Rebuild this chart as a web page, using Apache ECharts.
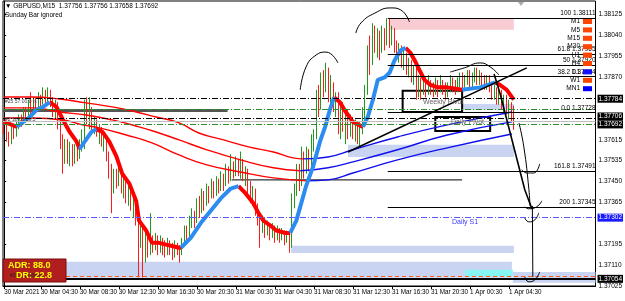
<!DOCTYPE html>
<html><head><meta charset="utf-8">
<script src="https://cdn.jsdelivr.net/npm/echarts@6/dist/echarts.min.js"></script>
<style>html,body{margin:0;padding:0;background:#fff}#c{width:625px;height:301px}</style>
</head><body><div id="c"></div>
<script>
// ---------- data ----------
const barCount = 243;
const timeTickIdx = [0,15,31,47,63,79,95,111,127,143,159,175,191,207];
const timeTickText = ['30 Mar 2021','30 Mar 04:30','30 Mar 08:30','30 Mar 12:30','30 Mar 16:30','30 Mar 20:30','31 Mar 00:30','31 Mar 04:30','31 Mar 08:30','31 Mar 12:30','31 Mar 16:30','31 Mar 20:30','1 Apr 00:30','1 Apr 04:30'];
const priceTicks = [1.38125,1.38040,1.37955,1.37870,1.37615,1.37535,1.37450,1.37365,1.37195,1.37110,1.37025];

const open = [
1.3768,1.3766,1.3763,1.3761,1.3765,1.3764,1.3768,1.3770,1.3769,1.3773,
1.3771,1.3776,1.3774,1.3777,1.3776,1.3779,1.3777,1.3780,1.3779,1.3781,
1.3777,1.3774,1.3776,1.3768,1.3762,1.3756,1.3760,1.3755,1.3758,1.3754,
1.3757,1.3756,1.3760,1.3762,1.3776,1.3770,1.3773,1.3767,1.3769,1.3765,
1.3766,1.3761,1.3762,1.3756,1.3750,1.3744,1.3748,1.3745,1.3748,1.3742,
1.3744,1.3739,1.3741,1.3735,1.3737,1.3729,1.3722,1.3726,1.3719,1.3723,
1.3718,1.3721,1.3719,1.3722,1.3718,1.3721,1.3719,1.3717,1.3720,1.3718,
1.3716,1.3719,1.3717,1.3716,1.3721,1.3725,1.3723,1.3728,1.3731,1.3729,
1.3735,1.3733,1.3738,1.3736,1.3741,1.3739,1.3743,1.3740,1.3744,1.3742,
1.3746,1.3744,1.3749,1.3747,1.3751,1.3749,1.3753,1.3750,1.3752,1.3747,
1.3749,1.3743,1.3739,1.3741,1.3734,1.3730,1.3727,1.3729,1.3725,1.3727,
1.3724,1.3726,1.3723,1.3725,1.3722,1.3724,1.3721,1.3723,1.3720,1.3738,
1.3741,1.3748,1.3745,1.3754,1.3750,1.3755,1.3752,1.3760,1.3764,1.3780,
1.3776,1.3786,1.3783,1.3789,1.3780,1.3783,1.3776,1.3779,1.3770,1.3773,
1.3768,1.3771,1.3766,1.3770,1.3765,1.3768,1.3764,1.3767,1.3772,1.3782,
1.3798,1.3794,1.3806,1.3800,1.3804,1.3799,1.3805,1.3802,1.3808,1.3803,
1.3806,1.3800,1.3797,1.3799,1.3794,1.3796,1.3791,1.3793,1.3788,1.3790,
1.3783,1.3786,1.3781,1.3784,1.3782,1.3785,1.3783,1.3781,1.3784,1.3782,
1.3785,1.3783,1.3780,1.3783,1.3786,1.3784,1.3782,1.3785,1.3787,1.3784,
1.3786,1.3788,1.3785,1.3787,1.3789,1.3786,1.3788,1.3786,1.3784,1.3786,
1.3783,1.3780,1.3782,1.3779,1.3781,1.3777,1.3779,1.3775,1.3776,1.37756];
const close = [
1.3766,1.3763,1.3761,1.3765,1.3764,1.3768,1.3770,1.3769,1.3773,1.3771,
1.3776,1.3774,1.3777,1.3776,1.3779,1.3777,1.3780,1.3779,1.3781,1.3777,
1.3774,1.3776,1.3768,1.3762,1.3756,1.3760,1.3755,1.3758,1.3754,1.3757,
1.3756,1.3760,1.3762,1.3776,1.3770,1.3773,1.3767,1.3769,1.3765,1.3766,
1.3761,1.3762,1.3756,1.3750,1.3744,1.3748,1.3745,1.3748,1.3742,1.3744,
1.3739,1.3741,1.3735,1.3737,1.3729,1.3722,1.3726,1.3719,1.3723,1.3718,
1.3721,1.3719,1.3722,1.3718,1.3721,1.3719,1.3717,1.3720,1.3718,1.3716,
1.3719,1.3717,1.3716,1.3721,1.3725,1.3723,1.3728,1.3731,1.3729,1.3735,
1.3733,1.3738,1.3736,1.3741,1.3739,1.3743,1.3740,1.3744,1.3742,1.3746,
1.3744,1.3749,1.3747,1.3751,1.3749,1.3753,1.3750,1.3752,1.3747,1.3749,
1.3743,1.3739,1.3741,1.3734,1.3730,1.3727,1.3729,1.3725,1.3727,1.3724,
1.3726,1.3723,1.3725,1.3722,1.3724,1.3721,1.3723,1.3720,1.3738,1.3741,
1.3748,1.3745,1.3754,1.3750,1.3755,1.3752,1.3760,1.3764,1.3780,1.3776,
1.3786,1.3783,1.3789,1.3780,1.3783,1.3776,1.3779,1.3770,1.3773,1.3768,
1.3771,1.3766,1.3770,1.3765,1.3768,1.3764,1.3767,1.3772,1.3782,1.3798,
1.3794,1.3806,1.3800,1.3804,1.3799,1.3805,1.3802,1.3808,1.3803,1.3806,
1.3800,1.3797,1.3799,1.3794,1.3796,1.3791,1.3793,1.3788,1.3790,1.3783,
1.3786,1.3781,1.3784,1.3782,1.3785,1.3783,1.3781,1.3784,1.3782,1.3785,
1.3783,1.3780,1.3783,1.3786,1.3784,1.3782,1.3785,1.3787,1.3784,1.3786,
1.3788,1.3785,1.3787,1.3789,1.3786,1.3788,1.3786,1.3784,1.3786,1.3783,
1.3780,1.3782,1.3779,1.3781,1.3777,1.3779,1.3775,1.3776,1.3775,1.37692];
const low = [
1.3764,1.3761,1.3759,1.3760,1.3762,1.3763,1.3766,1.3767,1.3768,1.3769,
1.3770,1.3771,1.3773,1.3774,1.3775,1.3775,1.3776,1.3776,1.3777,1.3775,
1.3771,1.3770,1.3766,1.3758,1.3748,1.3752,1.3752,1.3751,1.3751,1.3752,
1.3753,1.3754,1.3757,1.3758,1.3768,1.3766,1.3765,1.3764,1.3763,1.3760,
1.3759,1.3757,1.3753,1.3746,1.3732,1.3740,1.3742,1.3743,1.3740,1.3738,
1.3736,1.3735,1.3733,1.3730,1.3727,1.3706,1.3718,1.3706,1.3712,1.3714,
1.3715,1.3716,1.3717,1.3715,1.3716,1.3715,1.3714,1.3715,1.3715,1.3713,
1.3714,1.3715,1.3712,1.3715,1.3719,1.3720,1.3722,1.3726,1.3726,1.3728,
1.3730,1.3732,1.3733,1.3735,1.3736,1.3738,1.3738,1.3739,1.3740,1.3741,
1.3741,1.3743,1.3744,1.3745,1.3746,1.3747,1.3747,1.3746,1.3745,1.3743,
1.3740,1.3736,1.3735,1.3731,1.3727,1.3718,1.3724,1.3722,1.3723,1.3721,
1.3722,1.3720,1.3721,1.3720,1.3721,1.3719,1.3720,1.3716,1.3718,1.3734,
1.3739,1.3741,1.3743,1.3746,1.3748,1.3749,1.3751,1.3757,1.3762,1.3771,
1.3774,1.3779,1.3781,1.3777,1.3776,1.3773,1.3771,1.3764,1.3762,1.3765,
1.3760,1.3762,1.3763,1.3762,1.3761,1.3760,1.3759,1.3764,1.3770,1.3780,
1.3788,1.3792,1.3797,1.3795,1.3794,1.3797,1.3798,1.3800,1.3799,1.3800,
1.3797,1.3794,1.3793,1.3791,1.3790,1.3788,1.3787,1.3785,1.3784,1.3778,
1.3779,1.3778,1.3780,1.3779,1.3780,1.3780,1.3779,1.3780,1.3779,1.3781,
1.3780,1.3778,1.3779,1.3781,1.3781,1.3780,1.3781,1.3783,1.3782,1.3782,
1.3784,1.3783,1.3783,1.3785,1.3784,1.3784,1.3783,1.3782,1.3782,1.3781,
1.3778,1.3778,1.3776,1.3776,1.3774,1.3773,1.3772,1.3770,1.3769,1.37658];
const high = [
1.3770,1.3768,1.3765,1.3767,1.3768,1.3769,1.3772,1.3772,1.3775,1.3775,
1.3778,1.3781,1.3779,1.3779,1.3781,1.3780,1.3783,1.3782,1.3783,1.3782,
1.3779,1.3778,1.3777,1.3770,1.3764,1.3762,1.3762,1.3761,1.3760,1.3760,
1.3760,1.3762,1.3766,1.3778,1.3779,1.3779,1.3775,1.3771,1.3770,1.3768,
1.3767,1.3764,1.3763,1.3757,1.3752,1.3750,1.3750,1.3751,1.3749,1.3746,
1.3745,1.3744,1.3742,1.3739,1.3738,1.3731,1.3728,1.3727,1.3725,1.3725,
1.3732,1.3723,1.3724,1.3723,1.3723,1.3722,1.3721,1.3722,1.3721,1.3720,
1.3721,1.3720,1.3719,1.3722,1.3727,1.3727,1.3731,1.3734,1.3733,1.3738,
1.3739,1.3742,1.3741,1.3744,1.3743,1.3746,1.3745,1.3747,1.3746,1.3749,
1.3748,1.3752,1.3751,1.3756,1.3753,1.3755,1.3754,1.3757,1.3754,1.3751,
1.3750,1.3745,1.3743,1.3742,1.3736,1.3732,1.3731,1.3730,1.3729,1.3728,
1.3728,1.3727,1.3727,1.3726,1.3726,1.3725,1.3725,1.3724,1.3740,1.3744,
1.3752,1.3752,1.3759,1.3757,1.3759,1.3758,1.3764,1.3766,1.3782,1.3784,
1.3789,1.3790,1.3793,1.3791,1.3788,1.3785,1.3781,1.3781,1.3776,1.3777,
1.3773,1.3774,1.3772,1.3771,1.3770,1.3769,1.3769,1.3775,1.3784,1.3800,
1.3804,1.3809,1.3808,1.3807,1.3806,1.3808,1.3807,1.3811,1.3811,1.3808,
1.3807,1.3802,1.3801,1.3800,1.3799,1.3797,1.3795,1.3794,1.3792,1.3791,
1.3788,1.3787,1.3786,1.3787,1.3788,1.3786,1.3785,1.3787,1.3786,1.3788,
1.3786,1.3785,1.3785,1.3788,1.3787,1.3786,1.3787,1.3789,1.3789,1.3788,
1.3790,1.3790,1.3789,1.3791,1.3791,1.3790,1.3789,1.3788,1.3788,1.3788,
1.3785,1.3784,1.3783,1.3782,1.3782,1.3780,1.3780,1.3778,1.3777,1.37756];

// trend indicator (thick, colour by slope) : [barIndex, price]
const trendBlueSegs = [
 [[5.2,1.3767],[10.5,1.3771],[13.4,1.3774],[15.8,1.3775],[18.7,1.3777]],
 [[30.9,1.3758],[31.7,1.3758],[33.7,1.3762],[35.8,1.3765],[37.8,1.3766]],
 [[72.5,1.3718],[76.5,1.3722],[80.6,1.3728],[84.7,1.3733],[88.8,1.3738],[92.9,1.3742],[96.1,1.3743]],
 [[117.3,1.3724],[119.8,1.3729],[121.8,1.3736],[123.8,1.3743],[126.7,1.3751],[129.5,1.3761],[131.6,1.3767],[133.6,1.3774],[135.3,1.3779]],
 [[147.1,1.3767],[149.1,1.3771],[151.2,1.3778],[153.2,1.3786],[156,1.3787],[158.1,1.3789],[160.1,1.3794],[162.6,1.3798],[164.6,1.3799]],
 [[187.8,1.3782],[195.2,1.3783],[201.3,1.3785]]
];
const trendRedSegs = [
 [[0,1.3769],[5.2,1.3767]],
 [[18.7,1.3777],[21.5,1.3775],[24,1.3770],[26.8,1.3765],[29.7,1.3761],[30.9,1.3758]],
 [[37.8,1.3766],[40.3,1.3765],[43.1,1.3761],[46,1.3755],[48.4,1.3748],[51.3,1.3744],[54.1,1.3737],[55.3,1.3729],[58.2,1.3725],[60.6,1.3720],[63.5,1.3720],[71.7,1.3718],[72.5,1.3718]],
 [[96.1,1.3743],[99,1.3740],[102.2,1.3736],[104.3,1.3732],[106.3,1.3729],[109.2,1.3727],[111.6,1.3725],[115.3,1.3724],[117.3,1.3724]],
 [[135.3,1.3779],[137.7,1.3777],[140.1,1.3773],[143,1.3769],[147.1,1.3767]],
 [[164.6,1.3799],[166.6,1.3797],[168.3,1.3794],[170.3,1.3790],[172.4,1.3786],[174.8,1.3784],[177.7,1.3783],[181.7,1.3783],[187.8,1.3782]],
 [[201.3,1.3785],[203.3,1.3784],[206.1,1.3782],[209,1.3778]]
];
// three moving averages: falling part (red) / rising part (blue)
const maRedSegs = [
 [[0,1.37791],[11.7,1.37791],[22.7,1.37783],[33.7,1.37767],[44.3,1.37751],[52.5,1.37734],[62.3,1.37710],[71.7,1.37686],[79.8,1.37645],[90,1.37617],[100.2,1.37589],[110.4,1.37568],[118.5,1.37544],[122.6,1.37540]],
 [[0,1.37747],[11.7,1.37747],[22.7,1.37730],[33.7,1.37718],[44.3,1.37698],[55.3,1.37670],[63.5,1.37645],[71.7,1.37617],[83.1,1.37577],[96.9,1.37536],[110.4,1.37504],[121.4,1.37492]],
 [[0,1.37706],[11.7,1.37706],[24,1.37698],[32.1,1.37678],[39,1.37666],[50.1,1.37637],[60.6,1.37605],[71.7,1.37556],[83.1,1.37516],[96.9,1.37487],[110.4,1.37463],[123.8,1.37451]]
];
const maBlueSegs = [
 [[122.6,1.37540],[132.8,1.37548],[143,1.37577],[161.3,1.37629],[181.7,1.37678],[208.2,1.37730]],
 [[121.4,1.37492],[132.8,1.37504],[143,1.37528],[161.3,1.37577],[181.7,1.37637],[208.2,1.37690]],
 [[123.8,1.37451],[132.8,1.37455],[143,1.37483],[161.3,1.37536],[181.7,1.37585],[208.2,1.37641]]
];
// Fibonacci levels
const fibNames = ['100','61.8','50','38.2','0.0','161.8','200'];
const fibPrices = [1.38111,1.37965,1.37920,1.37874,1.37728,1.37491,1.37345];
const fibStartBar = 157.3;
// horizontal levels across the chart
const dashDotBlack = [1.37784,1.37706];
const dashDotGreen = [1.37741,1.37682];
const bidPrice = 1.37692;
const dailyS1 = 1.37302;
const supportLevel = 1.37054;
const redDashed = 1.37064;
// zones [x0bar, x1bar, p0, p1]
const zonesBlue = [[-0.5,208.2,1.37058,1.37123],[117.7,209,1.37159,1.37188],[141,209,1.37548,1.37597],[187.8,209,1.37739,1.37763],[208.6,242.5,1.37038,1.37082]];
const zoneCyan = [189.1,208.6,1.37062,1.37091];
const zonePink = [158.1,209,1.38063,1.38111];
const boxWeekly = [163.4,187.8,1.37730,1.37816];
const boxDaily = [176.8,199.3,1.37653,1.37710];
// drawn segments
const greyThick = [[-0.5,1.37736],[91.6,1.37736]];
const blackShort = [[93.3,1.37455],[187.8,1.37455]];
const trendLine = [[141,1.37568],[214.3,1.37909]];
const arcs = [
 [[121.4,1.37820],[123.8,1.37913],[127.9,1.37961],[132,1.37973],[136.9,1.37929]],
 [[144.2,1.38050],[146.3,1.38091],[152,1.38131],[158.5,1.38152],[162.6,1.38144],[166.2,1.38095]],
 [[182.9,1.37892],[188.7,1.37909],[195.2,1.37929],[199.3,1.37913],[202.9,1.37880]]
];
const projLines = [
 [[200.9,1.37884],[203.3,1.37807],[213.5,1.37415],[216.4,1.37338]],
 [[211.1,1.37686],[213.1,1.37589],[215.2,1.37415],[215.6,1.37350]],
 [[216.6,1.37350],[216.8,1.37062]]
];
const hooks = [
 [[212.3,1.37496],[214.3,1.37483],[217.2,1.37483],[219.6,1.37520]],
 [[213.5,1.37346],[215.1,1.37338],[218.4,1.37346],[220.5,1.37370]],
 [[213.5,1.37301],[215.1,1.37285],[217.6,1.37293],[219.2,1.37321]],
 [[213.5,1.37062],[215.1,1.37042],[217.6,1.37050],[219.6,1.37082]]
];
const tfNames = ['M1','M5','M15','M30','H1','H4','D1','W1','MN1'];
const tfColors = ['#ff4500','#ff4500','#ff4500','#ff4500','#ff4500','#ff4500','#1010ff','#ff4500','#0000ff'];

// ---------- chart ----------
const FONT = 'Liberation Sans';
const X0 = -0.5, X1 = barCount - 0.5;
const chart = echarts.init(document.getElementById('c'), null, {renderer:'canvas'});
const candles = open.map((o,i)=>[o, close[i], low[i], high[i]]);
const categories = Array.from({length:barCount},(_,i)=>String(i));
const series = [];
const lineS = (data, color, width, extra) => Object.assign({
  type:'line', xAxisIndex:1, yAxisIndex:0, data, symbol:'none', showSymbol:false,
  lineStyle:{color, width}, silent:true, animation:false, z:3
}, extra||{});
const DASHDOT = [6,2,1,2];
const endLabel = (v,bg,dy)=>({show:true,position:'end',distance:2,offset:[0,dy||0],formatter:v.toFixed(5),color:'#fff',backgroundColor:bg,padding:[1,1,0,1],fontSize:6.5,fontFamily:FONT});
const hLine = (v, style, label) => [
  {coord:[X0,v], lineStyle:style, label: label || {show:false}},
  {coord:[X1,v]}
];

// zones (background)
series.push({
  type:'line', xAxisIndex:1, yAxisIndex:0, data:[], z:1, silent:true,
  markArea:{silent:true, data:[
    ...zonesBlue.map(z=>[{coord:[z[0],z[2]], itemStyle:{color:'#c9d4f3'}},{coord:[z[1],z[3]]}]),
    [{coord:[zoneCyan[0],zoneCyan[2]], itemStyle:{color:'#88f5f5'}},{coord:[zoneCyan[1],zoneCyan[3]]}],
    [{coord:[zonePink[0],zonePink[2]], itemStyle:{color:'#f9cbd3'}},{coord:[zonePink[1],zonePink[3]]}]
  ]}
});
// full-width horizontal levels
series.push({
  type:'line', xAxisIndex:1, yAxisIndex:0, data:[], z:2, silent:true,
  markLine:{silent:true, symbol:'none', animation:false, data:[
    ...dashDotGreen.map(v=>hLine(v,{color:'#2e8b2e',width:1,type:DASHDOT})),
    hLine(bidPrice,{color:'#bdbdbd',width:1,type:'solid'}, endLabel(bidPrice,'#000',3)),
    hLine(dashDotBlack[0],{color:'#000',width:1,type:DASHDOT}, endLabel(dashDotBlack[0],'#000',0)),
    hLine(dashDotBlack[1],{color:'#000',width:1,type:DASHDOT}, endLabel(dashDotBlack[1],'#000',-1.5)),
    hLine(dailyS1,{color:'#5a5aff',width:1,type:DASHDOT}, endLabel(dailyS1,'#1a1aff',0)),
    hLine(redDashed,{color:'#ff5a1a',width:1,type:[4,3]}),
    hLine(supportLevel,{color:'#000',width:2,type:'solid'}, endLabel(supportLevel,'#000',0))
  ]}
});
// fibonacci
series.push({
  type:'line', xAxisIndex:1, yAxisIndex:0, data:[], z:2, silent:true,
  markLine:{silent:true, symbol:'none', animation:false, data:
    fibPrices.map((p,i)=>[
      {coord:[fibStartBar,p], lineStyle:{color:'#000',width:1,type:'solid'},
       label:{show:true,position:'insideEndTop',distance:[0,1],formatter:fibNames[i]+' '+p.toFixed(5),color:'#000',fontSize:6.5,fontFamily:FONT}},
      {coord:[X1,p]}
    ])
  }
});
// pivot boxes
series.push({
  type:'line', xAxisIndex:1, yAxisIndex:0, data:[], z:4, silent:true,
  markArea:{silent:true, data:[
    [{coord:[boxWeekly[0],boxWeekly[2]], itemStyle:{color:'rgba(0,0,0,0)',borderColor:'#000',borderWidth:2}},{coord:[boxWeekly[1],boxWeekly[3]]}],
    [{coord:[boxDaily[0],boxDaily[2]], itemStyle:{color:'rgba(0,0,0,0)',borderColor:'#000',borderWidth:2}},{coord:[boxDaily[1],boxDaily[3]]}]
  ]}
});
series.push(lineS(greyThick,'#555',3,{z:2}));
series.push(lineS(blackShort,'#000',1,{z:2}));
// candles
series.push({
  type:'candlestick', xAxisIndex:0, yAxisIndex:0, data:candles, barWidth:1, z:2, silent:true,
  itemStyle:{color:'#1f9a1f', color0:'#ff1a1a', borderColor:'#1f9a1f', borderColor0:'#ff1a1a', borderWidth:1}
});
// MAs
maRedSegs.forEach(d=>series.push(lineS(d,'#ff0000',1.4,{smooth:true})));
maBlueSegs.forEach(d=>series.push(lineS(d,'#1010ee',1.4,{smooth:true})));
// trend indicator
trendRedSegs.forEach(d=>series.push(lineS(d,'#ff0000',4,{z:4})));
trendBlueSegs.forEach(d=>series.push(lineS(d,'#2d8cf0',4,{z:4})));
// drawings
series.push(lineS(trendLine,'#000',1.6,{z:5}));
arcs.forEach(d=>series.push(lineS(d,'#000',1,{smooth:true,z:5})));
projLines.forEach((d,i)=>series.push(lineS(d,'#000',i===0?1.6:1,{smooth:i===1,z:5})));
hooks.forEach(d=>series.push(lineS(d,'#000',1,{smooth:true,z:5})));

const graphic = [
  {type:'text', left:5, top:3, z:100, style:{text:'▼ GBPUSD,M15  1.37756 1.37756 1.37658 1.37692', font:'6.5px '+FONT, fill:'#000'}},
  {type:'text', left:5, top:12, z:100, style:{text:'Sunday Bar ignored', font:'6.5px '+FONT, fill:'#000'}},
  {type:'polygon', z:100, shape:{points:[[518,2],[524,2],[521,6]]}, style:{fill:'#aaa'}},
  {type:'text', x:452, y:219, z:100, style:{text:'Daily S1', font:'7px '+FONT, fill:'#3a3aff'}},
  {type:'text', x:423, y:99, z:100, style:{text:'Weekly Pivot', font:'7px '+FONT, fill:'#666'}},
  {type:'text', x:451, y:119, z:100, style:{text:'Daily Pivot', font:'7px '+FONT, fill:'#666'}},
  {type:'text', x:5, y:99, z:100, style:{text:'#25 57:00:0 ts', font:'5px '+FONT, fill:'#444'}},
  {type:'text', x:5, y:117, z:100, style:{text:'#2 18:00 29.5', font:'5px '+FONT, fill:'#444'}},
  {type:'rect', z:100, shape:{x:3,y:259,width:63,height:23}, style:{fill:'#b11e1e', stroke:'#7a0a0a', lineWidth:1}},
  {type:'text', x:8, y:261, z:101, style:{text:'ADR: 88.0', font:'bold 9px '+FONT, fill:'#ffff00'}},
  {type:'text', x:10, y:273, z:101, style:{text:'#25 1.37054 ts', font:'5px '+FONT, fill:'#222'}},
  {type:'text', x:16, y:271, z:101, style:{text:'DR: 22.8', font:'bold 9px '+FONT, fill:'#ffff00'}}
];
tfNames.forEach((n,i)=>{
  const y = 19 + i*8.4;
  graphic.push({type:'text', x:580, y:y-1, z:100, style:{text:n, font:'6.5px '+FONT, fill:'#000', align:'right'}});
  graphic.push({type:'rect', z:100, shape:{x:583,y:y,width:9,height:5}, style:{fill:tfColors[i]}});
});

chart.setOption({
  animation:false,
  backgroundColor:'#fff',
  grid:{left:3, right:26, top:1, bottom:15, show:true, borderColor:'#000', borderWidth:1, backgroundColor:'#fff'},
  xAxis:[
    {type:'category', data:categories, boundaryGap:true, gridIndex:0,
     axisLine:{lineStyle:{color:'#000'}},
     axisTick:{show:true, alignWithLabel:true, length:3, interval:(i)=>timeTickIdx.includes(i), lineStyle:{color:'#000'}},
     axisLabel:{interval:(i)=>timeTickIdx.includes(i), showMinLabel:true, formatter:(v,i)=>timeTickText[timeTickIdx.indexOf(i)]||'', align:'left', fontSize:6.3, fontFamily:FONT, color:'#000', margin:3, hideOverlap:false},
     splitLine:{show:false}},
    {type:'value', min:X0, max:X1, show:false, gridIndex:0}
  ],
  yAxis:[{type:'value', position:'right', min:1.37025, max:1.38180, scale:true,
    axisLine:{show:true, lineStyle:{color:'#000'}},
    axisTick:{show:true, length:2, customValues:priceTicks, lineStyle:{color:'#000'}},
    axisLabel:{customValues:priceTicks, formatter:v=>v.toFixed(5), fontSize:6.5, fontFamily:FONT, color:'#000', margin:3},
    splitLine:{show:false}}],
  series,
  graphic
});
</script></body></html>
